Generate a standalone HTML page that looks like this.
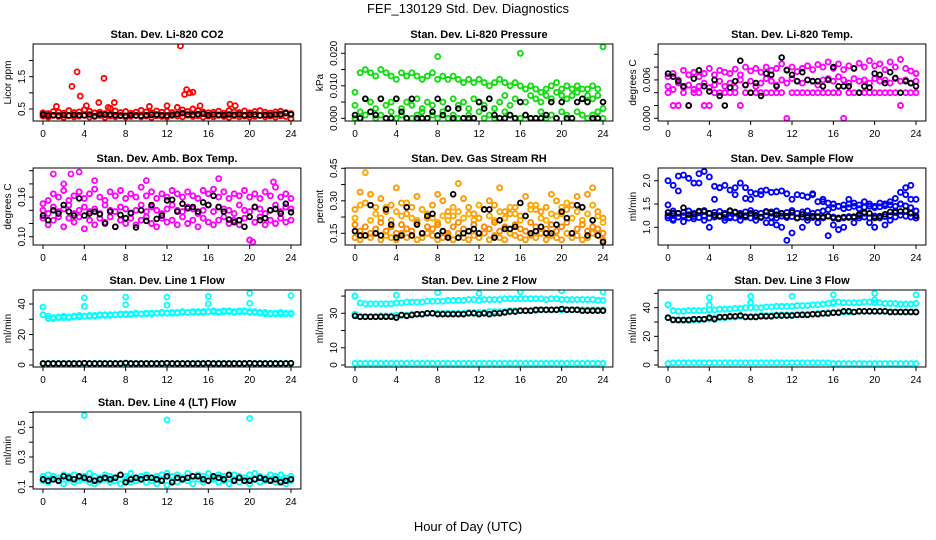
<!DOCTYPE html>
<html><head><meta charset="utf-8"><title>FEF_130129 Std. Dev. Diagnostics</title>
<style>
html,body{margin:0;padding:0;background:#fff;}
svg{display:block;font-family:"Liberation Sans",Arial,sans-serif;}
</style></head>
<body>
<svg id="chart" width="936" height="540" viewBox="0 0 936 540" xmlns="http://www.w3.org/2000/svg">
<rect x="0" y="0" width="936" height="540" fill="#fff"/>
<text x="468" y="13" text-anchor="middle" font-size="13">FEF_130129  Std. Dev. Diagnostics</text>
<text x="468" y="531" text-anchor="middle" font-size="13">Hour of Day (UTC)</text>
</svg>
<script>
// ---------- data ----------
const xTicks=[0,4,8,12,16,20,24];
// CO2
const co2Upper=[0.38,0.36,0.42,0.40,0.37,0.45,0.39,0.41,0.48,0.43,0.38,0.40,0.36,0.52,0.44,0.39,0.42,0.37,0.40,0.46,0.41,0.38,0.44,0.40,0.43,0.39,0.55,0.47,0.42,0.50,0.45,0.41,0.38,0.40,0.43,0.37,0.45,0.41,0.39,0.44,0.38,0.42,0.45,0.40,0.37,0.41,0.43,0.39,0.36];
const co2Lower=[0.28,0.25,0.30,0.27,0.24,0.29,0.26,0.28,0.31,0.25,0.27,0.30,0.24,0.28,0.26,0.29,0.25,0.27,0.30,0.26,0.28,0.24,0.29,0.27,0.25,0.30,0.28,0.26,0.31,0.27,0.29,0.25,0.28,0.26,0.30,0.27,0.24,0.29,0.26,0.28,0.25,0.27,0.30,0.26,0.28,0.25,0.29,0.27,0.20];
const co2OutHours=[1.3,2.8,3.3,3.6,4.2,5.4,5.9,6.3,6.9,10.3,12,13.3,13.7,13.9,14.2,14.5,15.2,18.1,18.6];
const co2OutVals=[0.58,1.2,1.65,0.9,0.6,0.7,1.45,0.55,0.7,0.58,0.6,2.45,0.95,1.1,1.0,1.02,0.6,0.65,0.6];
const co2Black=[0.33,0.30,0.31,0.30,0.31,0.30,0.32,0.31,0.30,0.33,0.28,0.34,0.32,0.33,0.31,0.30,0.29,0.31,0.30,0.29,0.31,0.32,0.33,0.31,0.30,0.32,0.34,0.37,0.33,0.32,0.34,0.35,0.31,0.33,0.32,0.31,0.33,0.32,0.33,0.31,0.32,0.33,0.30,0.32,0.31,0.33,0.34,0.37,0.33];
// Pressure
const presUpper=[0.008,0.014,0.015,0.014,0.013,0.015,0.014,0.013,0.012,0.014,0.013,0.014,0.013,0.012,0.013,0.014,0.012,0.013,0.012,0.013,0.012,0.011,0.012,0.011,0.012,0.011,0.010,0.011,0.012,0.011,0.010,0.011,0.010,0.009,0.010,0.009,0.008,0.009,0.010,0.011,0.009,0.010,0.009,0.010,0.009,0.009,0.010,0.009,0.022];
const presMid=[0.004,0.002,0.006,0.005,0.003,0.006,0.004,0.005,0.006,0.003,0.005,0.004,0.006,0.003,0.005,0.004,0.019,0.005,0.003,0.006,0.004,0.005,0.003,0.006,0.005,0.004,0.006,0.003,0.005,0.007,0.004,0.006,0.020,0.005,0.007,0.006,0.005,0.007,0.006,0.008,0.007,0.006,0.007,0.008,0.006,0.007,0.006,0.007,0.003];
const presLow=[0.000,0.000,0.001,0.002,0.000,0.001,0.000,0.002,0.000,0.001,0.000,0.000,0.001,0.002,0.000,0.001,0.000,0.002,0.000,0.001,0.000,0.000,0.001,0.000,0.002,0.000,0.001,0.000,0.000,0.002,0.001,0.000,0.000,0.001,0.000,0.000,0.002,0.000,0.001,0.000,0.002,0.001,0.000,0.002,0.001,0.000,0.001,0.002,0.000];
const presBlack=[0.001,0.000,0.006,0.002,0.001,0.006,0.000,0.000,0.006,0.002,0.000,0.006,0.000,0.000,0.000,0.002,0.006,0.001,0.003,0.000,0.003,0.000,0.000,0.000,0.005,0.003,0.006,0.001,0.000,0.000,0.001,0.000,0.005,0.001,0.000,0.000,0.000,0.001,0.005,0.000,0.005,0.000,0.000,0.005,0.006,0.005,0.000,0.000,0.005];
// Li-820 Temp
const tempHigh=[0.0065,0.0070,0.0060,0.0075,0.0068,0.0072,0.0065,0.0070,0.0078,0.0068,0.0075,0.0072,0.0070,0.0077,0.0068,0.0080,0.0074,0.0078,0.0072,0.0080,0.0075,0.0078,0.0085,0.0076,0.0080,0.0073,0.0078,0.0082,0.0076,0.0084,0.0080,0.0088,0.0078,0.0085,0.0076,0.0082,0.0078,0.0086,0.0080,0.0090,0.0082,0.0085,0.0076,0.0088,0.0080,0.0092,0.0078,0.0074,0.0070];
const tempMid=[0.0050,0.0045,0.0055,0.0048,0.0052,0.0045,0.0050,0.0055,0.0048,0.0052,0.0058,0.0050,0.0055,0.0048,0.0060,0.0052,0.0058,0.0050,0.0055,0.0062,0.0058,0.0052,0.0060,0.0055,0.0062,0.0058,0.0055,0.0060,0.0058,0.0052,0.0060,0.0062,0.0058,0.0065,0.0060,0.0055,0.0062,0.0058,0.0060,0.0055,0.0062,0.0058,0.0060,0.0055,0.0062,0.0058,0.0060,0.0055,0.0058];
const tempLow=[0.004,0.002,0.002,0.004,0.002,0.004,0.004,0.002,0.002,0.004,0.004,0.004,0.004,0.004,0.002,0.004,0.004,0.004,0.004,0.004,0.004,0.004,0.004,0.000,0.004,0.004,0.004,0.004,0.004,0.004,0.004,0.004,0.004,0.004,0.000,0.004,0.004,0.004,0.004,0.004,0.004,0.004,0.004,0.004,0.004,0.002,0.004,0.004,0.004];
const tempBlack=[0.0070,0.0065,0.0058,0.0050,0.0020,0.0062,0.0075,0.0050,0.0042,0.0060,0.0035,0.0020,0.0048,0.0058,0.0090,0.0052,0.0040,0.0055,0.0035,0.0070,0.0068,0.0050,0.0095,0.0075,0.0068,0.0058,0.0072,0.0060,0.0058,0.0058,0.0050,0.0060,0.0080,0.0050,0.0050,0.0050,0.0078,0.0040,0.0050,0.0048,0.0070,0.0068,0.0055,0.0072,0.0063,0.0040,0.0058,0.0055,0.0050];
// Amb box temp
const ambHigh=[0.150,0.155,0.165,0.160,0.170,0.155,0.162,0.168,0.158,0.165,0.172,0.160,0.155,0.168,0.162,0.170,0.158,0.165,0.160,0.175,0.162,0.168,0.158,0.165,0.160,0.170,0.165,0.160,0.168,0.162,0.158,0.170,0.165,0.172,0.160,0.168,0.158,0.165,0.162,0.170,0.160,0.165,0.158,0.168,0.162,0.175,0.160,0.165,0.158];
const ambMid=[0.140,0.135,0.145,0.138,0.142,0.148,0.135,0.140,0.145,0.138,0.142,0.135,0.148,0.140,0.138,0.145,0.142,0.135,0.140,0.148,0.138,0.145,0.140,0.135,0.142,0.148,0.140,0.138,0.145,0.142,0.135,0.140,0.148,0.138,0.145,0.142,0.140,0.135,0.148,0.140,0.138,0.145,0.142,0.135,0.140,0.148,0.138,0.145,0.142];
const ambLow=[0.128,0.118,0.125,0.130,0.115,0.128,0.122,0.130,0.112,0.125,0.118,0.128,0.122,0.130,0.115,0.125,0.120,0.128,0.118,0.125,0.130,0.120,0.115,0.128,0.122,0.125,0.118,0.130,0.120,0.125,0.115,0.128,0.122,0.118,0.125,0.130,0.120,0.125,0.118,0.128,0.095,0.122,0.130,0.118,0.125,0.120,0.128,0.122,0.125];
const ambOutHours=[1.0,2.7,3.5,5.0,2.0,10.0,17.0,22.3,20.3];
const ambOutVals=[0.195,0.195,0.198,0.185,0.180,0.185,0.188,0.183,0.092];
const ambBlack=[0.132,0.125,0.140,0.135,0.148,0.138,0.132,0.158,0.132,0.135,0.138,0.134,0.120,0.138,0.115,0.133,0.128,0.136,0.114,0.140,0.124,0.148,0.127,0.132,0.155,0.156,0.138,0.150,0.143,0.145,0.138,0.152,0.148,0.162,0.145,0.138,0.126,0.122,0.125,0.115,0.130,0.145,0.125,0.128,0.140,0.142,0.135,0.150,0.137];
// Gas stream RH
const rhBand=[0.19,0.16,0.18,0.15,0.17,0.20,0.16,0.18,0.15,0.19,0.17,0.16,0.20,0.15,0.18,0.17,0.19,0.16,0.15,0.18,0.20,0.17,0.16,0.19,0.15,0.18,0.17,0.20,0.16,0.18,0.15,0.19,0.17,0.16,0.20,0.18,0.15,0.17,0.19,0.16,0.18,0.20,0.15,0.17,0.19,0.16,0.18,0.17,0.15];
const rhLow=[0.13,0.12,0.14,0.13,0.15,0.12,0.14,0.13,0.12,0.15,0.13,0.14,0.12,0.13,0.15,0.14,0.12,0.13,0.14,0.12,0.15,0.13,0.12,0.14,0.13,0.15,0.12,0.14,0.13,0.12,0.15,0.14,0.13,0.12,0.14,0.13,0.15,0.12,0.14,0.13,0.12,0.15,0.13,0.14,0.12,0.13,0.15,0.14,0.12];
const rhUpper=[0.26,0.34,0.29,0.33,0.27,0.31,0.25,0.28,0.36,0.29,0.24,0.27,0.32,0.26,0.22,0.28,0.33,0.30,0.25,0.23,0.38,0.31,0.27,0.24,0.22,0.26,0.30,0.28,0.36,0.25,0.24,0.27,0.23,0.32,0.28,0.26,0.25,0.27,0.33,0.30,0.24,0.26,0.28,0.32,0.27,0.33,0.36,0.25,0.22];
const rhMid=[0.22,0.28,0.43,0.21,0.24,0.22,0.27,0.21,0.25,0.23,0.29,0.22,0.21,0.26,0.24,0.22,0.20,0.23,0.21,0.27,0.25,0.22,0.24,0.21,0.28,0.26,0.23,0.21,0.25,0.22,0.27,0.24,0.21,0.23,0.26,0.28,0.22,0.21,0.24,0.23,0.27,0.29,0.22,0.25,0.21,0.24,0.28,0.23,0.20];
const rhBlack=[0.16,0.14,0.14,0.28,0.15,0.14,0.26,0.19,0.13,0.14,0.27,0.14,0.19,0.15,0.23,0.24,0.14,0.16,0.13,0.33,0.13,0.15,0.16,0.17,0.15,0.26,0.26,0.13,0.21,0.17,0.17,0.18,0.29,0.23,0.15,0.16,0.18,0.15,0.15,0.19,0.25,0.22,0.15,0.28,0.27,0.14,0.21,0.14,0.11];
// Sample flow
const flowLow=[1.2,1.18,1.22,1.25,1.2,1.23,1.21,1.24,1.2,1.22,1.25,1.21,1.23,1.2,1.24,1.22,1.2,1.23,1.21,1.25,1.22,1.2,1.24,1.21,1.23,1.2,1.22,1.25,1.21,1.23,1.2,1.24,1.22,1.18,1.2,1.23,1.21,1.25,1.22,1.2,1.24,1.21,1.23,1.25,1.22,1.26,1.24,1.22,1.2];
const flowMid=[1.48,1.35,1.3,1.32,1.35,1.3,1.33,1.36,1.3,1.32,1.34,1.3,1.35,1.32,1.3,1.33,1.36,1.31,1.3,1.34,1.33,1.35,1.3,1.32,1.36,1.3,1.33,1.35,1.3,1.32,1.35,1.38,1.42,1.45,1.4,1.42,1.45,1.4,1.43,1.45,1.42,1.44,1.46,1.48,1.45,1.5,1.46,1.42,1.35];
const flowHigh=[2.0,1.9,2.1,2.12,2.05,1.95,2.15,2.2,2.08,1.88,1.85,1.9,1.8,1.85,1.95,1.62,1.75,1.72,1.78,1.8,1.75,1.76,1.78,1.72,1.6,1.7,1.68,1.65,1.72,1.55,1.6,1.52,1.5,1.45,1.48,1.5,1.52,1.48,1.55,1.5,1.45,1.52,1.5,1.55,1.62,1.75,1.85,1.9,1.6];
const flowScatter=[1.25,1.15,1.78,1.12,1.2,1.18,1.95,1.15,1.0,1.6,1.85,1.15,1.2,1.7,1.15,1.85,1.6,1.15,1.7,1.1,1.1,1.05,1.0,0.72,0.88,1.2,1.0,1.15,1.7,1.1,1.55,0.82,1.05,0.95,1.0,1.6,1.1,1.2,1.3,1.1,1.0,1.2,1.05,1.15,1.35,1.5,1.7,1.6,1.2];
const flowBlack=[1.32,1.3,1.3,1.42,1.27,1.28,1.35,1.34,1.3,1.26,1.23,1.28,1.36,1.33,1.27,1.25,1.3,1.26,1.22,1.33,1.3,1.27,1.3,1.24,1.32,1.2,1.28,1.21,1.24,1.22,1.22,1.24,1.2,1.2,1.22,1.21,1.23,1.28,1.32,1.3,1.2,1.24,1.28,1.33,1.32,1.34,1.35,1.3,1.25];
// Line 1
const l1Upper=[38,32,31,31.5,32,31.5,32,32.5,32,32.5,32.5,33,33,33,33,33.5,33.5,33.5,34,33.5,34,34,34,34.5,34,34.5,34.5,35,34.5,35,35,35,35,35.5,35,35.5,35.5,35,35.5,35.5,35,35,34.5,34.5,34,34,34.5,34,34];
const l1Lower=[33,30.5,30.5,31,31,31,31.5,31.5,32,32,32,32.5,32.5,32.5,33,33,33,33,33.5,33.5,33.5,33.5,34,34,34,34,34,34.5,34.5,34.5,34.5,34.5,35,35,34.5,35,35,34.5,35,35,34.5,34.5,34,33.5,33.5,33.5,33.5,33.5,33.5];
const l1Zero=[1,1,1,1,1,1,1,1,1,1,1,1,1,1,1,1,1,1,1,1,1,1,1,1,1,1,1,1,1,1,1,1,1,1,1,1,1,1,1,1,1,1,1,1,1,1,1,1,1];
const l1OutHours=[4,4,8,8,12,12,16,16,20,20,24];
const l1OutVals=[44,38.5,44.5,39.5,44.5,39.3,45,40,47,40.5,45.5];
const l1Black=[1,1,1,1,1,1,1,1,1.2,1,1,1,1,1,1,1,1.3,1,1,1,1,1,1,1,1.2,1,1,1,1,1,1,1,1.2,1,1,1,1,1,1,1,1.2,1,1,1,1,1,1,1,1.2];
// Line 2
const l2Upper=[40,36,35.5,35.5,35.5,35.5,35.5,35.5,36,36,36.5,36.5,36.5,36.5,37,37,37,37,37.5,37.5,37.5,37.5,38,38,37.5,38,38,38,38,38.5,38.5,38.5,38.5,38.5,38.5,38.5,38.5,38,38.5,38.5,38,38,38,38,38,38,38,37.5,37.5];
const l2Lower=[29.5,28,28,28,28,28.5,28.5,28.5,29,29,29,29.5,29.5,29.5,30,30,30,30,30,30,30,30,30.5,30.5,30.5,30.5,31,31,31,31,31.5,31.5,31.5,31.5,31.5,31.5,32,32,32,32,32,32,32,32,32,32,32,32,32];
const l2Zero=[1,1,1,1,1,1,1,1,1,1,1,1,1,1,1,1,1,1,1,1,1,1,1,1,1,1,1,1,1,1,1,1,1,1,1,1,1,1,1,1,1,1,1,1,1,1,1,1,1];
const l2OutHours=[0,4,8,12,16,20,24];
const l2OutVals=[40,40.5,42,41.5,42.5,43,42.5];
const l2Black=[28.5,28,28,28,28,28,28,28,27.5,29,28.5,29,29.5,29.5,30,30,29.5,29.5,29.5,29.5,29.5,29.5,30,30,29.5,30,29.5,30,30,30.5,31,31,31.5,31.5,31.5,32,32,32,32,32,32.5,32,32,32,31.5,31.5,31.5,31.5,31.5];
// Line 3
const l3Upper=[42,38,37.5,37.5,38,38,38,38,38.5,38.5,39,39,39,39.5,39.5,40,40,40,40,40.5,40.5,41,41,41,41,41.5,41.5,41.5,42,42,42.5,43,43,44,43.5,43.5,43.5,43.5,44,44,43.5,43.5,43,43,43,42.5,42.5,42.5,43];
const l3Lower=[33,31.5,31,31,31,31.5,31.5,32,32,33,33,33,33.5,33.5,34,34,34,34,34.5,34.5,34.5,35,35,35,35,35,35.5,35.5,35.5,36,36,36.5,36.5,37,37,37,37,37.5,37.5,37.5,37.5,37.5,37.5,37,37,37,37,37,37];
const l3Zero=[1,1.5,1.5,1.5,1.5,1.5,1.5,1.5,1.5,1.5,1.5,1.5,1.5,1.5,1.5,1.5,1.5,1.5,1.5,1.5,1.5,1.5,1.5,1.5,1.5,1.5,1.5,1.5,1.5,1.5,1.5,1.5,1,1,1,1,1,1,1,1,1,1,1,1,1,1,1,1,1];
const l3OutHours=[0,4,4,8,8,12,16,16,20,20,24];
const l3OutVals=[42,47,42,48,43.5,48,49,44,50,45.5,49];
const l3Black=[33,31.5,31.5,31.5,31.5,32,32,32,33,32,33.5,33.5,34,34,34.5,33.5,33.5,33.5,34,34,34,34.5,34.5,34.5,34.5,35,35,35,35.5,35.5,36,36,36.5,36.5,37.5,37.5,37,37.5,37.5,37.5,37.5,37.5,37.5,37,37,37,37,37,37];
// Line 4
const l4Upper=[0.17,0.18,0.17,0.16,0.18,0.17,0.18,0.16,0.17,0.19,0.17,0.16,0.18,0.17,0.16,0.18,0.17,0.19,0.16,0.17,0.18,0.16,0.17,0.18,0.19,0.17,0.18,0.16,0.19,0.17,0.18,0.17,0.19,0.16,0.18,0.17,0.16,0.18,0.17,0.16,0.18,0.19,0.17,0.16,0.18,0.17,0.18,0.16,0.17];
const l4Lower=[0.14,0.13,0.15,0.14,0.12,0.15,0.13,0.14,0.15,0.13,0.12,0.14,0.15,0.13,0.14,0.12,0.15,0.13,0.14,0.15,0.13,0.14,0.12,0.15,0.11,0.14,0.13,0.15,0.14,0.12,0.15,0.13,0.14,0.15,0.13,0.14,0.12,0.15,0.13,0.14,0.12,0.15,0.13,0.14,0.15,0.13,0.14,0.12,0.14];
const l4OutHours=[4,12,20];
const l4OutVals=[0.58,0.55,0.56];
const l4Black=[0.15,0.14,0.15,0.14,0.17,0.16,0.15,0.17,0.16,0.15,0.14,0.15,0.16,0.15,0.16,0.18,0.13,0.15,0.16,0.15,0.16,0.16,0.15,0.14,0.17,0.13,0.16,0.15,0.16,0.17,0.17,0.15,0.14,0.17,0.16,0.15,0.18,0.14,0.16,0.14,0.14,0.15,0.16,0.15,0.14,0.15,0.13,0.14,0.15];

// ---------- rendering ----------
const NS='http://www.w3.org/2000/svg';
const svg=document.getElementById('chart');
function el(tag,attrs,parent){const e=document.createElementNS(NS,tag);for(const k in attrs)e.setAttribute(k,attrs[k]);(parent||svg).appendChild(e);return e;}
const COLS=[{x0:43},{x0:355},{x0:668}];
const XW=248;
const ROWS=[{top:44},{top:168},{top:290},{top:412}];
const H=77;

const panels=[
 {id:'co2',title:'Stan. Dev. Li-820 CO2',ylab:'Licor ppm',c:0,r:0,ref:[0.5,109,1.5,76.7],ticks:[0.5,1,1.5,2],labels:[[0.5,'0.5'],[1.5,'1.5']],
  series:[[co2Upper,'#ff0000'],[co2Lower,'#ff0000']],out:[co2OutHours,co2OutVals,'#ff0000'],black:co2Black},
 {id:'pressure',title:'Stan. Dev. Li-820 Pressure',ylab:'kPa',c:1,r:0,ref:[0,118.3,0.02,53.3],ticks:[0,0.005,0.01,0.015,0.02],labels:[[0,'0.000'],[0.01,'0.010'],[0.02,'0.020']],
  series:[[presUpper,'#11dd11'],[presMid,'#11dd11'],[presLow,'#11dd11']],black:presBlack},
 {id:'temp',title:'Stan. Dev. Li-820 Temp.',ylab:'degrees C',c:2,r:0,ref:[0,118.3,0.01,54.3],ticks:[0,0.002,0.004,0.006,0.008,0.010],labels:[[0,'0.000'],[0.006,'0.006']],
  series:[[tempHigh,'#ff00ff'],[tempMid,'#ff00ff'],[tempLow,'#ff00ff']],black:tempBlack},
 {id:'ambbox',title:'Stan. Dev. Amb. Box Temp.',ylab:'degrees C',c:0,r:1,ref:[0.10,236.7,0.20,170.7],ticks:[0.10,0.12,0.14,0.16,0.18,0.20],labels:[[0.10,'0.10'],[0.16,'0.16']],
  series:[[ambHigh,'#ff00ff'],[ambMid,'#ff00ff'],[ambLow,'#ff00ff']],out:[ambOutHours,ambOutVals,'#ff00ff'],black:ambBlack},
 {id:'rh',title:'Stan. Dev. Gas Stream RH',ylab:'percent',c:1,r:1,ref:[0.15,233.3,0.45,168.3],ticks:[0.15,0.225,0.30,0.375,0.45],labels:[[0.15,'0.15'],[0.30,'0.30'],[0.45,'0.45']],
  series:[[rhUpper,'#ff9900'],[rhMid,'#ffaa00'],[rhBand,'#ff8800'],[rhLow,'#ff9900']],black:rhBlack},
 {id:'sampleflow',title:'Stan. Dev. Sample Flow',ylab:'ml/min',c:2,r:1,ref:[1.0,227.3,2.0,180.7],ticks:[1.0,1.5,2.0],labels:[[1.0,'1.0'],[1.5,'1.5'],[2.0,'2.0']],
  series:[[flowHigh,'#0000ff'],[flowScatter,'#0000ff'],[flowMid,'#0000ff'],[flowLow,'#0000ff']],black:flowBlack},
 {id:'line1',title:'Stan. Dev. Line 1 Flow',ylab:'ml/min',c:0,r:2,ref:[0,365,40,304],ticks:[0,10,20,30,40],labels:[[0,'0'],[20,'20'],[40,'40']],
  series:[[l1Upper,'#00ffff'],[l1Lower,'#00ffff'],[l1Zero,'#00ffff']],out:[l1OutHours,l1OutVals,'#00ffff'],black:l1Black},
 {id:'line2',title:'Stan. Dev. Line 2 Flow',ylab:'ml/min',c:1,r:2,ref:[0,365,30,313.3],ticks:[0,10,20,30,40],labels:[[0,'0'],[10,'10'],[30,'30']],
  series:[[l2Upper,'#00ffff'],[l2Lower,'#00ffff'],[l2Zero,'#00ffff']],out:[l2OutHours,l2OutVals,'#00ffff'],black:l2Black},
 {id:'line3',title:'Stan. Dev. Line 3 Flow',ylab:'ml/min',c:2,r:2,ref:[0,365,40,307.7],ticks:[0,10,20,30,40,50],labels:[[0,'0'],[20,'20'],[40,'40']],
  series:[[l3Upper,'#00ffff'],[l3Lower,'#00ffff'],[l3Zero,'#00ffff']],out:[l3OutHours,l3OutVals,'#00ffff'],black:l3Black},
 {id:'line4',title:'Stan. Dev. Line 4 (LT) Flow',ylab:'ml/min',c:0,r:3,ref:[0.1,486.7,0.5,427.3],ticks:[0.1,0.2,0.3,0.4,0.5,0.6],labels:[[0.1,'0.1'],[0.3,'0.3'],[0.5,'0.5']],
  series:[[l4Upper,'#00ffff'],[l4Lower,'#00ffff']],out:[l4OutHours,l4OutVals,'#00ffff'],black:l4Black}
];

panels.forEach(p=>{
  const x0=COLS[p.c].x0, top=ROWS[p.r].top, bot=top+H;
  const left=x0-9.9, right=x0+XW+9.9;
  const xs=h=>x0+h*XW/24;
  const k=(p.ref[3]-p.ref[1])/(p.ref[2]-p.ref[0]);
  const ys=v=>p.ref[1]+(v-p.ref[0])*k;
  const g=el('g',{});
  
  
  const t=el('text',{x:(left+right)/2,y:top-6,'text-anchor':'middle','font-size':'11','font-weight':'bold'},g);
  t.textContent=p.title;
  
  
  const cid='clip-'+p.id;
  const cp=el('clipPath',{id:cid},g);
  el('rect',{x:left,y:top,width:right-left,height:H},cp);
  const pts=el('g',{'clip-path':'url(#'+cid+')'},g);
  
  
  p.series.forEach(([arr,col])=>{
    arr.forEach((v,i)=>{
      const c=el('circle',{cx:xs(i*24/(arr.length-1)),cy:ys(v),r:2.5,fill:'none',stroke:col,'stroke-width':1.9},pts);
      
      
    });
  });
  if(p.out){
    const [hs,vs,col]=p.out;
    hs.forEach((h,i)=>{
      const c=el('circle',{cx:xs(h),cy:ys(vs[i]),r:2.5,fill:'none',stroke:col,'stroke-width':1.8},pts);
      
      
    });
  }
  p.black.forEach((v,i)=>{
    const c=el('circle',{cx:xs(i*24/(p.black.length-1)),cy:ys(v),r:2.4,fill:'none',stroke:'#000','stroke-width':1.8},pts);
    
    
  });
  const b=el('rect',{x:left,y:top,width:right-left,height:H,fill:'none',stroke:'#000','stroke-width':1},g);
  
  
  el('line',{x1:xs(0),x2:xs(24),y1:bot,y2:bot,stroke:'#000'},g);
  xTicks.forEach(h=>{
    el('line',{x1:xs(h),x2:xs(h),y1:bot,y2:bot+4,stroke:'#000'},g);
    const tl=el('text',{x:xs(h),y:bot+16,'text-anchor':'middle','font-size':'10'},g);
    tl.textContent=h;
    
    
  });
  p.ticks.forEach(v=>{el('line',{x1:left-4,x2:left,y1:ys(v),y2:ys(v),stroke:'#000'},g);});
  p.labels.forEach(([v,s])=>{
    const yl=el('text',{x:0,y:0,'text-anchor':'middle','font-size':'10',transform:'translate('+(left-8)+','+ys(v)+') rotate(-90)'},g);
    yl.textContent=s;
    
    
  });
  const yt=el('text',{x:0,y:0,'text-anchor':'middle','font-size':'10',transform:'translate('+(left-22)+','+(top+H/2)+') rotate(-90)'},g);
  yt.textContent=p.ylab;
  
  
});
</script>
</body></html>
